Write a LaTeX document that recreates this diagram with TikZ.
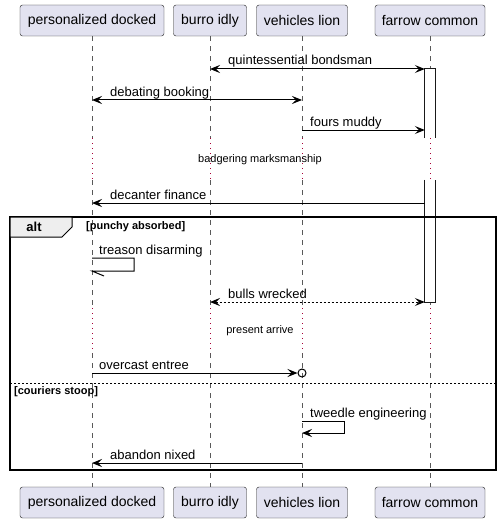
\documentclass[tikz,border=0pt]{standalone}
\usepackage{fontspec}
\setmainfont{Liberation Sans}
\usetikzlibrary{positioning,arrows.meta}

\definecolor{partfill}{RGB}{226,226,240}
\definecolor{delayred}{RGB}{168,0,54}
\definecolor{tabfill}{RGB}{238,238,238}

\tikzset{
  participant/.style={draw=black!90, fill=partfill, rounded corners=2.5pt, minimum height=31pt, inner sep=0pt, font=\fontsize{14}{16}\selectfont},
  lifeline/.style={draw=black!65, line width=0.6pt, dash pattern=on 5pt off 5pt},
  delayline/.style={draw=delayred, line width=1pt, dash pattern=on 1pt off 4pt},
  actbar/.style={fill=white, minimum width=10pt, inner sep=0pt},
  actedge/.style={draw=black!90, line width=1pt},
  msg/.style={line width=1pt, >={Stealth[length=10pt,width=8pt,inset=4pt]}},
  lbl/.style={anchor=base west, inner sep=0pt, font=\fontsize{13}{15}\selectfont},
  delaytext/.style={inner sep=0pt, font=\fontsize{11}{13}\selectfont},
  guard/.style={anchor=west, inner sep=0pt, font=\bfseries\fontsize{11}{13}\selectfont},
}

\begin{document}
\begin{tikzpicture}[x=1pt,y=-1pt]
\useasboundingbox (0,0) rectangle (501,524);

% participants
\node[participant, minimum width=144pt] (pdT) at (92,20.5) {personalized docked};
\node[participant, minimum width=73pt] (biT) at (210,20.5) {burro idly};
\node[participant, minimum width=91pt] (vlT) at (302,20.5) {vehicles lion};
\node[participant, minimum width=110pt] (fcT) at (430,20.5) {farrow common};
\node[participant, minimum width=144pt] (pdB) at (92,502.5) {personalized docked};
\node[participant, minimum width=73pt] (biB) at (210,502.5) {burro idly};
\node[participant, minimum width=91pt] (vlB) at (302,502.5) {vehicles lion};
\node[participant, minimum width=110pt] (fcB) at (430,502.5) {farrow common};

% delays
\coordinate (d1a) at (0,138);
\coordinate (d1b) at (0,180);
\coordinate (d2a) at (0,308);
\coordinate (d2b) at (0,353);

\foreach \p in {pd,bi,vl,fc} {
  \draw[lifeline] (\p T.south) -- (\p T.south |- d1a);
  \draw[lifeline] (\p T.south |- d1b) -- (\p T.south |- d2a);
  \draw[lifeline] (\p T.south |- d2b) -- (\p B.north);
  \draw[delayline] (\p T.south |- d1a) -- (\p T.south |- d1b);
  \draw[delayline] (\p T.south |- d2a) -- (\p T.south |- d2b);
}

\node[delaytext] (dl1) at (260,160) {badgering marksmanship};
\node[delaytext] (dl2) at (260,331) {present arrive};

% activations, open where the delay cuts them
\node[actbar, minimum height=69pt] (act1) at (430,103.5) {};
\draw[actedge] (act1.south west) -- (act1.north west) -- (act1.north east) -- (act1.south east);
\node[actbar, minimum height=122pt] (act2) at (430,241) {};
\draw[actedge] (act2.north west) -- (act2.south west) -- (act2.south east) -- (act2.north east);

% alt frame
\coordinate (frNW) at (10,217);
\coordinate (frSE) at (496,470);
\draw[line width=1.5pt] (frNW) rectangle (frSE);
\draw[fill=tabfill, line width=1pt] (frNW) -- (72,217) -- (72,227) -- (62,237) -- (10,237) -- cycle;
\node[inner sep=0pt, font=\bfseries\fontsize{13}{15}\selectfont] (alt) at (34,227) {alt};
\node[guard] (g1) at (86,227) {[punchy absorbed]};
\coordinate (sepL) at (10,383);
\coordinate (sepR) at (496,383);
\draw[line width=1pt, dash pattern=on 2pt off 2pt] (sepL) -- (sepR);
\node[guard] (g2) at (14,392) {[couriers stoop]};

% messages
\coordinate (m1) at (0,69);
\coordinate (m2) at (0,100);
\coordinate (m3) at (0,130);
\coordinate (m4) at (0,203);
\coordinate (m6) at (0,302);
\coordinate (m7) at (0,373);
\coordinate (m9) at (0,463);

\draw[msg, <->] (biT |- m1) -- (act1.west |- m1);
\node[lbl] (l1) at (228,65) {quintessential bondsman};
\draw[msg, <->] (pdT |- m2) -- (vlT |- m2);
\node[lbl] (l2) at (110,96) {debating booking};
\draw[msg, ->] (vlT |- m3) -- (act1.west |- m3);
\node[lbl] (l3) at (310,126) {fours muddy};
\draw[msg, ->] (act2.west |- m4) -- (pdT |- m4);
\node[lbl] (l4) at (110,199) {decanter finance};

\coordinate (s1a) at (92,258);
\coordinate (s1b) at (134,258);
\coordinate (s1c) at (134,271);
\coordinate (s1d) at (92,271);
\draw[line width=1pt] (s1a) -- (s1b) -- (s1c) -- (s1d) -- ++(12,5);
\node[lbl] (l5) at (99,254) {treason disarming};

\draw[msg, <->, dash pattern=on 2pt off 2pt] (biT |- m6) -- (act2.west |- m6);
\node[lbl] (l6) at (228,298) {bulls wrecked};

\node[draw, circle, line width=1pt, minimum size=8pt, inner sep=0pt] (lost) at (302,373) {};
\draw[msg, ->] (pdT |- m7) -- (lost.west);
\node[lbl] (l7) at (99,369) {overcast entree};

\coordinate (s2a) at (302,421);
\coordinate (s2b) at (344,421);
\coordinate (s2c) at (344,433);
\coordinate (s2d) at (302,433);
\draw[msg, ->] (s2a) -- (s2b) -- (s2c) -- (s2d);
\node[lbl] (l8) at (310,417) {tweedle engineering};
\draw[msg, ->] (vlT |- m9) -- (pdT |- m9);
\node[lbl] (l9) at (110,459) {abandon nixed};
\end{tikzpicture}
\end{document}
